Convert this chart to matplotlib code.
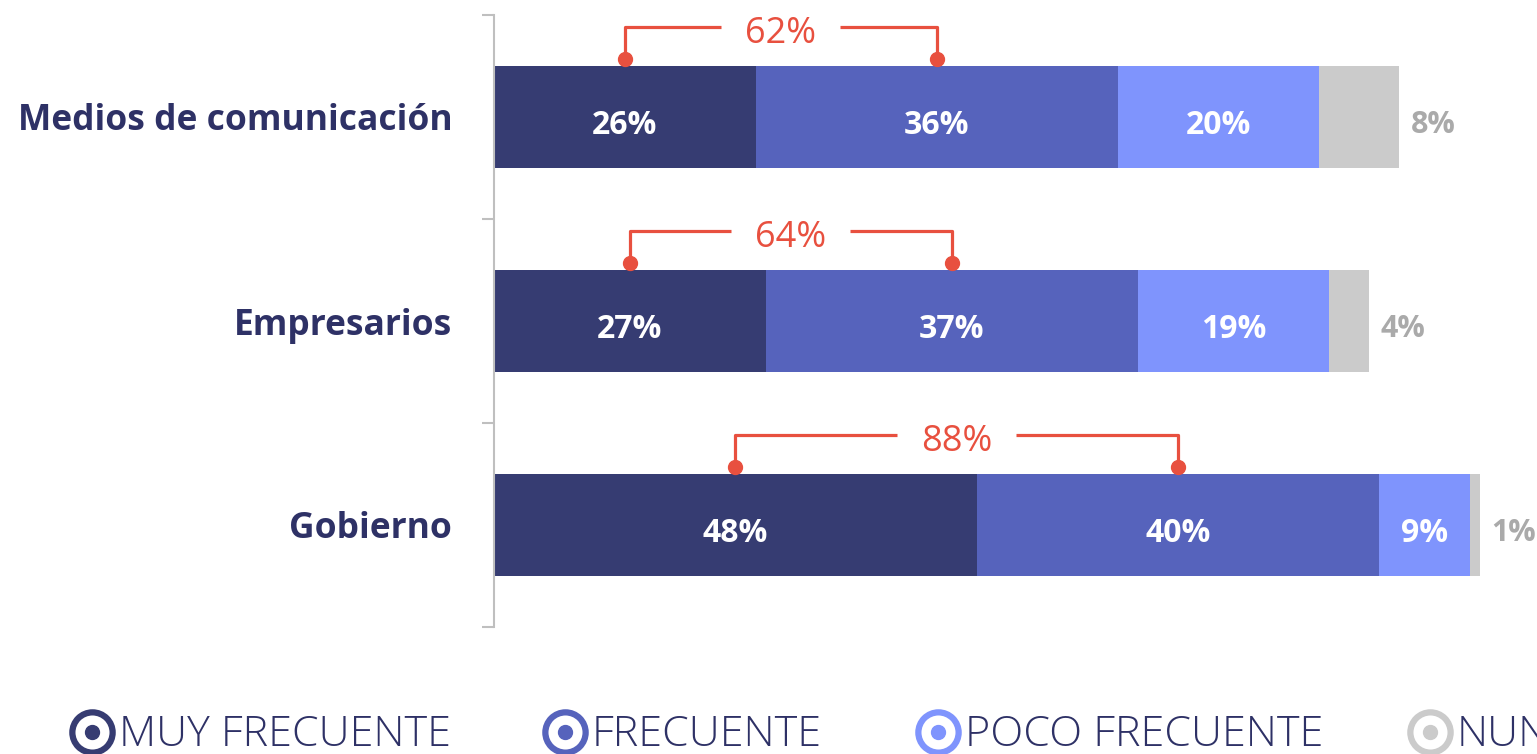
import numpy as np
import matplotlib.pyplot as plt

# data
categories = ['Medios de comunicación', 'Empresarios', 'Gobierno']
series = ['MUY FRECUENTE', 'FRECUENTE', 'POCO FRECUENTE', 'NUNCA']
muy_frecuente = [26, 27, 48]
frecuente = [36, 37, 40]
poco_frecuente = [20, 19, 9]
nunca = [8, 4, 1]
totals_top2 = [62, 64, 88]

colors = ['#363c72', '#5663bc', '#7f94fd', '#cbcbcb']
navy = '#2e3166'
red = '#e8503f'
gray_txt = '#aaaaaa'

plt.rcParams['font.family'] = ['Open Sans', 'DejaVu Sans']

fig = plt.figure(figsize=(15.37, 7.54), dpi=100)
ax = fig.add_axes([494 / 1537, 1 - 627 / 754, 1043 / 1537, 612 / 754])

y = np.arange(len(categories))
values = [muy_frecuente, frecuente, poco_frecuente, nunca]
bar_h = 0.5
left = np.zeros(len(categories))
for i, vals in enumerate(values):
    vals = np.array(vals, dtype=float)
    ax.barh(y, vals, left=left, height=bar_h, color=colors[i], edgecolor='none')
    for j, v in enumerate(vals):
        if i < 3:
            ax.text(left[j] + v / 2, y[j] + 0.02, f'{int(v)}%', ha='center', va='center_baseline',
                    color='white', fontsize=23, fontweight='bold')
        else:
            ax.text(left[j] + v + 1.1, y[j] + 0.02, f'{int(v)}%', ha='left', va='center_baseline',
                    color=gray_txt, fontsize=22, fontweight='bold')
    left += vals

# red brackets over the first two segments
for j in range(len(categories)):
    x1 = muy_frecuente[j] / 2
    x2 = muy_frecuente[j] + frecuente[j] / 2
    mid = (x1 + x2) / 2
    top = y[j] - bar_h / 2
    yd = top - 0.035
    yb = top - 0.19
    gap = 5.9
    ax.plot([x1, x1, mid - gap], [yd, yb, yb], color=red, lw=2.3, solid_capstyle='butt')
    ax.plot([mid + gap, x2, x2], [yb, yb, yd], color=red, lw=2.3, solid_capstyle='butt')
    ax.plot([x1, x2], [yd, yd], 'o', color=red, markersize=10, linestyle='none')
    ax.text(mid, yb + 0.01, f'{totals_top2[j]}%', ha='center', va='center_baseline',
            color=red, fontsize=26)

ax.set_xlim(0, 1043 / 10.06)
ax.set_ylim(2.5, -0.5)
ax.set_yticks(y)
ax.set_yticklabels(categories, fontsize=25.5, fontweight='bold', color=navy,
                   va='center_baseline')
ax.set_yticks([-0.5, 0.5, 1.5, 2.5], minor=True)
ax.tick_params(axis='y', which='major', length=0, pad=30)
ax.tick_params(axis='y', which='minor', length=9, width=1.5, color='#bfbfbf')
ax.set_xticks([])
for s in ['top', 'right', 'bottom']:
    ax.spines[s].set_visible(False)
ax.spines['left'].set_color('#bfbfbf')
ax.spines['left'].set_linewidth(1.5)

# legend along the bottom, running off the right edge like the original
leg_x = [92, 565, 938, 1430]
leg_y = 1 - 732 / 754
for xi, name, c in zip(leg_x, series, colors):
    fx = xi / 1537
    fig.add_artist(plt.Line2D([fx], [leg_y], marker='o', markersize=29, markerfacecolor='white',
                              markeredgecolor=c, markeredgewidth=4.5, linestyle='none'))
    fig.add_artist(plt.Line2D([fx], [leg_y], marker='o', markersize=10, color=c, linestyle='none'))
    fig.text(fx + 27 / 1537, leg_y - 3 / 754, name, ha='left', va='center', color=navy,
             fontsize=31, fontweight='light')

fig.savefig('out.png', dpi=100)
